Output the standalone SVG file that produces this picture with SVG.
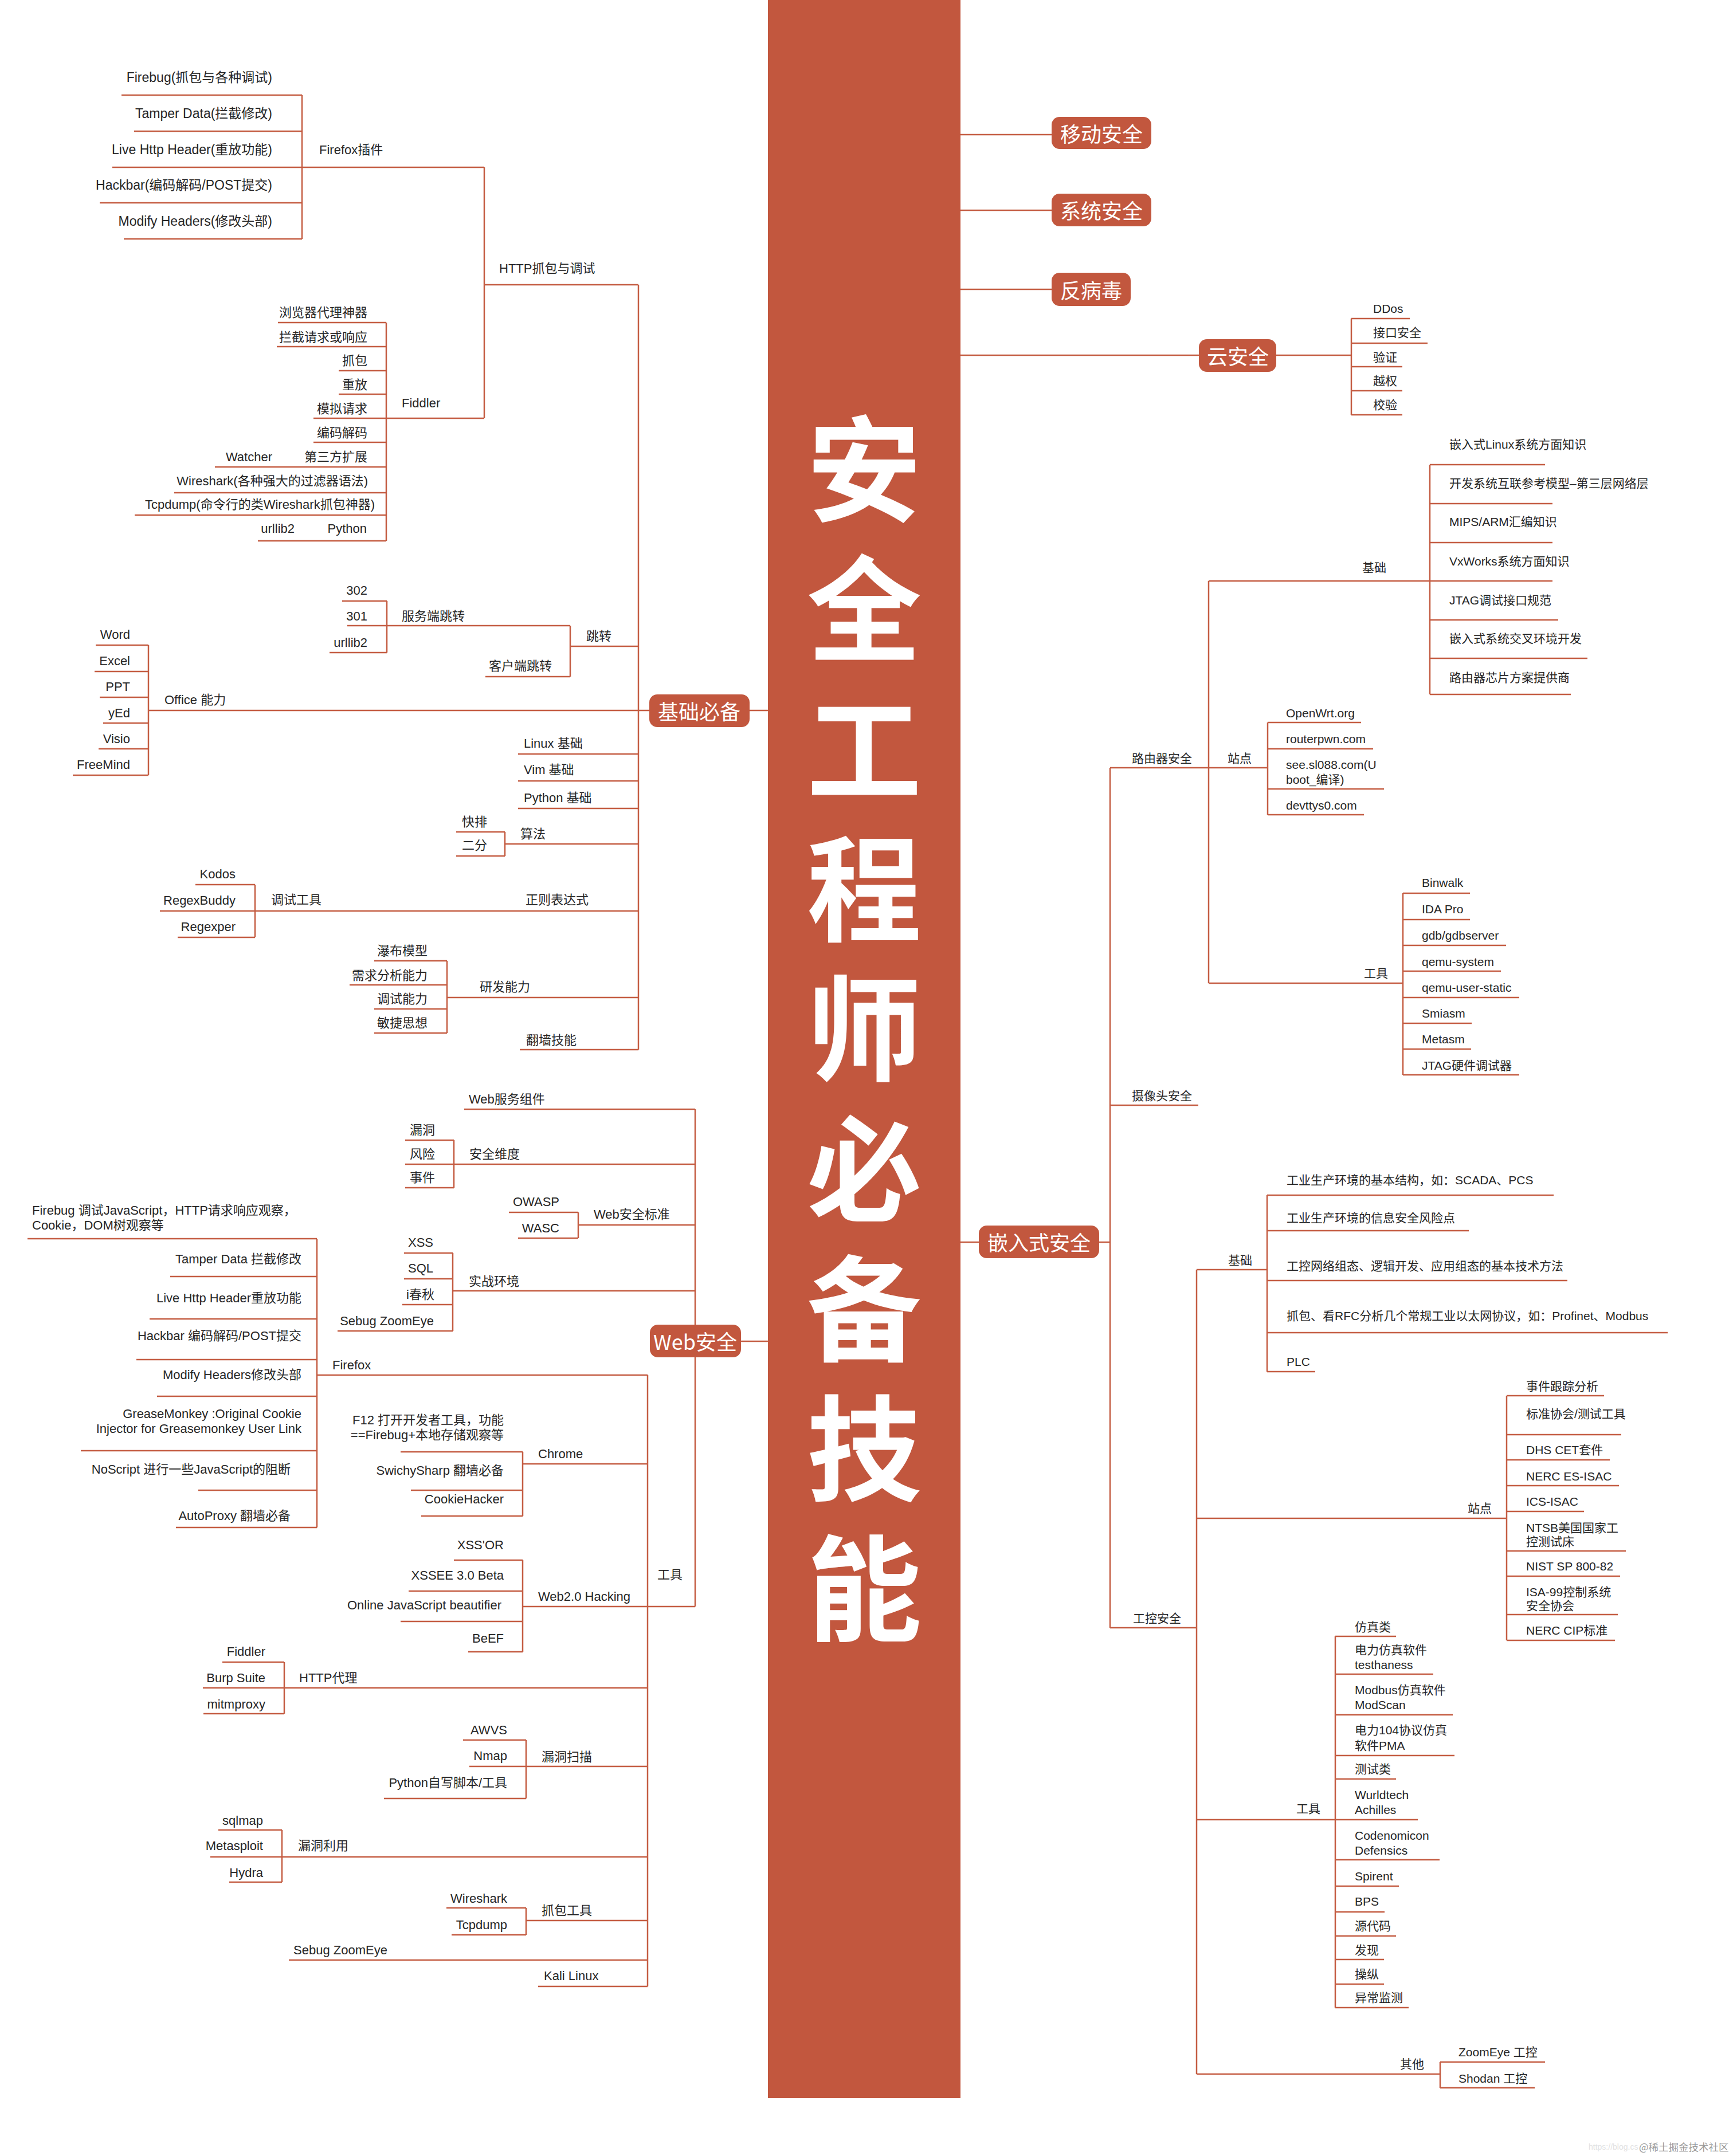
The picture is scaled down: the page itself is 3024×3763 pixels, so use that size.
<svg xmlns="http://www.w3.org/2000/svg" width="3024" height="3763" viewBox="0 0 3024 3763">
<style>
.t{font-family:"Liberation Sans","Noto Sans CJK SC",sans-serif;font-size:22px;fill:#262626}
.r{font-size:21px}
.e{text-anchor:end}
.mn rect{fill:#C2573E}
.mn text{font-family:"Noto Sans CJK SC",sans-serif;font-size:36px;fill:#fff;text-anchor:middle;dominant-baseline:central}
#title text{font-family:"Noto Sans CJK SC",sans-serif;font-weight:700;font-size:200px;fill:#fff;writing-mode:vertical-rl;letter-spacing:44.3px}
#connectors path{stroke:#C45C42;stroke-width:2.5;fill:none}
.wm{font-family:"Noto Sans CJK SC",sans-serif;font-size:17.5px;fill:#9a9a9a}
</style>
<rect width="3024" height="3763" fill="#fff"/>
<g id="center-bar">
<rect x="1340" y="0" width="336" height="3662" fill="#C2573E"/>
</g>
<g id="title">
<text x="1508" y="718">安全工程师必备技能</text>
</g>
<g id="connectors">
<path d="M212 166H527M234 229H527M196 292H845M174 354H527M216 417H527M527 166V417M845 292V730M845 497H1114"/>
<path d="M485 563H674M483 605H674M591 647H674M591 688H674M547 730H845M547 772H674M375 815H674M304 860H674M235 899H674M450 944H674M674 563V944"/>
<path d="M597 1049H675M606 1092H995M575 1139H675M675 1049V1139M847 1181H995M995 1092V1181M995 1128H1114"/>
<path d="M259 1240H1133M259 1126V1353M167 1126H259M165 1172H259M174 1217H259M180 1262H259M172 1307H259M127 1353H259"/>
<path d="M904 1316H1114M904 1363H1114M904 1411H1114M881 1473H1114M796 1452H881M796 1494H881M881 1452V1494"/>
<path d="M445 1590H1114M341 1544H445M279 1590H445M310 1636H445M445 1544V1636"/>
<path d="M780 1741H1114M653 1677H780M610 1719H780M653 1761H780M653 1803H780M780 1677V1803M907 1832H1114M1114 497V1832M1308 1240H1340"/>
<path d="M810 1936H1213M792 2032H1213M707 1990H792M707 2032H792M707 2073H792M792 1990V2073"/>
<path d="M1009 2138H1213M888 2116H1009M904 2161H1009M1009 2116V2161"/>
<path d="M790 2253H1213M705 2187H790M705 2232H790M702 2277H790M589 2323H790M790 2187V2323"/>
<path d="M1213 1936V2804M1293 2341H1340M912 2804H1213M1130 2400V3467"/>
<path d="M553 2400H1130M553 2162V2666M48 2162H553M297 2228H553M261 2302H553M238 2373H553M274 2437H553M141 2532H553M346 2601H553M307 2666H553"/>
<path d="M912 2555H1130M912 2534V2646M699 2534H912M717 2601H912M735 2646H912"/>
<path d="M912 2723V2883M792 2723H912M713 2777H912M699 2830H912M817 2883H912"/>
<path d="M496 2946H1130M496 2901V2991M388 2901H496M354 2946H496M355 2991H496"/>
<path d="M918 3083H1130M918 3037V3139M808 3037H918M819 3083H918M670 3139H918"/>
<path d="M492 3241H1130M492 3194V3285M381 3194H492M367 3241H492M400 3285H492"/>
<path d="M918 3352H1130M918 3330V3377M779 3330H918M788 3377H918M504 3421H1130M939 3467H1130"/>
<path d="M1676 235H1835M1676 367H1835M1676 505H1835M1676 620H2092M2227 620H2358M2358 556V724M2358 556H2460M2358 599H2491M2358 640H2447M2358 682H2447M2358 724H2447"/>
<path d="M1676 2168H1708M1918 2168H1937M1937 1340V2841M1937 1340H2212"/>
<path d="M2109 1014V1716M2109 1014H2495M2495 811V1212M2495 811H2696M2495 879H2709M2495 947H2709M2495 1014H2709M2495 1082H2719M2495 1149H2770M2495 1212H2741"/>
<path d="M2212 1261V1422M2212 1261H2375M2212 1307H2396M2212 1377H2415M2212 1422H2380"/>
<path d="M2109 1716H2448M2448 1559V1876M2448 1559H2565M2448 1605H2565M2448 1650H2628M2448 1695H2619M2448 1741H2651M2448 1786H2568M2448 1831H2567M2448 1876H2651"/>
<path d="M1937 1929H2091M1937 2841H2088M2088 2216V3620"/>
<path d="M2088 2216H2211M2211 2086V2394M2211 2086H2711M2211 2148H2563M2211 2235H2735M2211 2326H2910M2211 2394H2295"/>
<path d="M2088 2650H2629M2629 2436V2863M2629 2436H2799M2629 2504H2829M2629 2548H2809M2629 2593H2825M2629 2638H2764M2629 2707H2837M2629 2751H2827M2629 2818H2823M2629 2863H2818"/>
<path d="M2088 3176H2330M2330 2856V3504M2330 2856H2436M2330 2922H2501M2330 2993H2535M2330 3064H2538M2330 3105H2436M2330 3176H2474M2330 3246H2512M2330 3292H2441M2330 3337H2416M2330 3379H2436M2330 3420H2415M2330 3463H2415M2330 3504H2458"/>
<path d="M2088 3620H2513M2513 3599V3644M2513 3599H2696M2513 3644H2678"/>
</g>
<g id="main-nodes" class="mn">
<g id="n-jichu"><rect x="1133" y="1212" width="175" height="57" rx="14"/><text x="1220" y="1240">基础必备</text></g>
<g id="n-web"><rect x="1134" y="2312" width="159" height="57" rx="14"/><text x="1213" y="2340">Web安全</text></g>
<g id="n-mobile"><rect x="1835" y="204" width="174" height="56" rx="14"/><text x="1922" y="232">移动安全</text></g>
<g id="n-system"><rect x="1835" y="338" width="174" height="57" rx="14"/><text x="1922" y="366">系统安全</text></g>
<g id="n-antivirus"><rect x="1835" y="476" width="138" height="58" rx="14"/><text x="1904" y="505">反病毒</text></g>
<g id="n-cloud"><rect x="2092" y="592" width="135" height="57" rx="14"/><text x="2160" y="620">云安全</text></g>
<g id="n-embedded"><rect x="1708" y="2139" width="210" height="57" rx="14"/><text x="1813" y="2167">嵌入式安全</text></g>
</g>
<g id="left-nodes" class="t">
<g id="n-http"><text x="871" y="476">HTTP抓包与调试</text></g>
<g id="n-firefoxplugin"><text x="557" y="269">Firefox插件</text></g>
<g id="n-ff1"><text class="e" x="475" y="143" font-size="23">Firebug(抓包与各种调试)</text></g>
<g id="n-ff2"><text class="e" x="475" y="206" font-size="23">Tamper Data(拦截修改)</text></g>
<g id="n-ff3"><text class="e" x="475" y="269" font-size="23">Live Http Header(重放功能)</text></g>
<g id="n-ff4"><text class="e" x="475" y="331" font-size="23">Hackbar(编码解码/POST提交)</text></g>
<g id="n-ff5"><text class="e" x="475" y="394" font-size="23">Modify Headers(修改头部)</text></g>
<g id="n-fiddler"><text x="701" y="711">Fiddler</text></g>
<g id="n-fd1"><text class="e" x="641" y="553">浏览器代理神器</text></g>
<g id="n-fd2"><text class="e" x="641" y="596">拦截请求或响应</text></g>
<g id="n-fd3"><text class="e" x="641" y="637">抓包</text></g>
<g id="n-fd4"><text class="e" x="641" y="679">重放</text></g>
<g id="n-fd5"><text class="e" x="641" y="721">模拟请求</text></g>
<g id="n-fd6"><text class="e" x="641" y="763">编码解码</text></g>
<g id="n-fd7"><text class="e" x="641" y="805">第三方扩展</text></g>
<g id="n-fd7a"><text class="e" x="475" y="805">Watcher</text></g>
<g id="n-fd8"><text class="e" x="642" y="847">Wireshark(各种强大的过滤器语法)</text></g>
<g id="n-fd9"><text class="e" x="654" y="888">Tcpdump(命令行的类Wireshark抓包神器)</text></g>
<g id="n-fd10"><text class="e" x="640" y="930">Python</text></g>
<g id="n-fd10a"><text class="e" x="514" y="930">urllib2</text></g>
<g id="n-jump"><text x="1023" y="1118">跳转</text></g>
<g id="n-serverjump"><text x="701" y="1083">服务端跳转</text></g>
<g id="n-302"><text class="e" x="641" y="1038">302</text></g>
<g id="n-301"><text class="e" x="641" y="1083">301</text></g>
<g id="n-urllib2b"><text class="e" x="641" y="1129">urllib2</text></g>
<g id="n-clientjump"><text class="e" x="963" y="1170">客户端跳转</text></g>
<g id="n-office"><text x="287" y="1229">Office 能力</text></g>
<g id="n-word"><text class="e" x="227" y="1115">Word</text></g>
<g id="n-excel"><text class="e" x="227" y="1161">Excel</text></g>
<g id="n-ppt"><text class="e" x="227" y="1206">PPT</text></g>
<g id="n-yed"><text class="e" x="227" y="1252">yEd</text></g>
<g id="n-visio"><text class="e" x="227" y="1297">Visio</text></g>
<g id="n-freemind"><text class="e" x="227" y="1342">FreeMind</text></g>
<g id="n-linux"><text x="914" y="1305">Linux 基础</text></g>
<g id="n-vim"><text x="914" y="1351">Vim 基础</text></g>
<g id="n-python"><text x="914" y="1400">Python 基础</text></g>
<g id="n-algo"><text x="908" y="1463">算法</text></g>
<g id="n-qsort"><text x="806" y="1442">快排</text></g>
<g id="n-bsearch"><text x="806" y="1483">二分</text></g>
<g id="n-regex"><text x="917" y="1578">正则表达式</text></g>
<g id="n-debugtool"><text x="473" y="1578">调试工具</text></g>
<g id="n-kodos"><text class="e" x="411" y="1533">Kodos</text></g>
<g id="n-regexbuddy"><text class="e" x="411" y="1579">RegexBuddy</text></g>
<g id="n-regexper"><text class="e" x="411" y="1625">Regexper</text></g>
<g id="n-dev"><text x="837" y="1730">研发能力</text></g>
<g id="n-dev1"><text class="e" x="746" y="1667">瀑布模型</text></g>
<g id="n-dev2"><text class="e" x="746" y="1710">需求分析能力</text></g>
<g id="n-dev3"><text class="e" x="746" y="1751">调试能力</text></g>
<g id="n-dev4"><text class="e" x="746" y="1793">敏捷思想</text></g>
<g id="n-gfw"><text x="918" y="1823">翻墙技能</text></g>
<g id="n-websvc"><text x="818" y="1926">Web服务组件</text></g>
<g id="n-secdim"><text x="819" y="2022">安全维度</text></g>
<g id="n-vuln"><text class="e" x="759" y="1980">漏洞</text></g>
<g id="n-risk"><text class="e" x="759" y="2022">风险</text></g>
<g id="n-event"><text class="e" x="759" y="2063">事件</text></g>
<g id="n-webstd"><text x="1036" y="2127">Web安全标准</text></g>
<g id="n-owasp"><text class="e" x="976" y="2105">OWASP</text></g>
<g id="n-wasc"><text class="e" x="976" y="2151">WASC</text></g>
<g id="n-practice"><text x="818" y="2244">实战环境</text></g>
<g id="n-xss"><text class="e" x="756" y="2176">XSS</text></g>
<g id="n-sql"><text class="e" x="756" y="2221">SQL</text></g>
<g id="n-ichunqiu"><text class="e" x="758" y="2267">i春秋</text></g>
<g id="n-sebug1"><text class="e" x="757" y="2313">Sebug ZoomEye</text></g>
<g id="n-tools"><text x="1147" y="2756">工具</text></g>
<g id="n-firefox"><text x="580" y="2390">Firefox</text></g>
<g id="n-wf1"><text x="56" y="2120">Firebug 调试JavaScript，HTTP请求响应观察，<tspan x="56" dy="25.5">Cookie，DOM树观察等</tspan></text></g>
<g id="n-wf2"><text class="e" x="526" y="2205">Tamper Data 拦截修改</text></g>
<g id="n-wf3"><text class="e" x="526" y="2273">Live Http Header重放功能</text></g>
<g id="n-wf4"><text class="e" x="526" y="2339">Hackbar 编码解码/POST提交</text></g>
<g id="n-wf5"><text class="e" x="526" y="2407">Modify Headers修改头部</text></g>
<g id="n-wf6"><text class="e" x="526" y="2475">GreaseMonkey :Original Cookie<tspan x="526" dy="25.5">Injector for Greasemonkey User Link</tspan></text></g>
<g id="n-wf7"><text class="e" x="507" y="2572">NoScript 进行一些JavaScript的阻断</text></g>
<g id="n-wf8"><text class="e" x="507" y="2653">AutoProxy 翻墙必备</text></g>
<g id="n-chrome"><text x="939" y="2545">Chrome</text></g>
<g id="n-ch1"><text class="e" x="879" y="2486">F12 打开开发者工具，功能<tspan x="879" dy="25.5">==Firebug+本地存储观察等</tspan></text></g>
<g id="n-ch2"><text class="e" x="879" y="2574">SwichySharp 翻墙必备</text></g>
<g id="n-ch3"><text class="e" x="879" y="2624">CookieHacker</text></g>
<g id="n-web20"><text x="939" y="2794">Web2.0 Hacking</text></g>
<g id="n-xssor"><text class="e" x="879" y="2704">XSS'OR</text></g>
<g id="n-xssee"><text class="e" x="879" y="2757">XSSEE 3.0 Beta</text></g>
<g id="n-jsbeaut"><text class="e" x="875" y="2809">Online JavaScript beautifier</text></g>
<g id="n-beef"><text class="e" x="879" y="2867">BeEF</text></g>
<g id="n-httpproxy"><text x="522" y="2936">HTTP代理</text></g>
<g id="n-fiddler2"><text class="e" x="463" y="2890">Fiddler</text></g>
<g id="n-burp"><text class="e" x="463" y="2936">Burp Suite</text></g>
<g id="n-mitm"><text class="e" x="463" y="2982">mitmproxy</text></g>
<g id="n-vscan"><text x="945" y="3074">漏洞扫描</text></g>
<g id="n-awvs"><text class="e" x="885" y="3027">AWVS</text></g>
<g id="n-nmap"><text class="e" x="885" y="3072">Nmap</text></g>
<g id="n-pyscript"><text class="e" x="885" y="3119">Python自写脚本/工具</text></g>
<g id="n-vexploit"><text x="520" y="3229">漏洞利用</text></g>
<g id="n-sqlmap"><text class="e" x="459" y="3185">sqlmap</text></g>
<g id="n-msf"><text class="e" x="459" y="3229">Metasploit</text></g>
<g id="n-hydra"><text class="e" x="459" y="3276">Hydra</text></g>
<g id="n-capture"><text x="945" y="3342">抓包工具</text></g>
<g id="n-wireshark"><text class="e" x="885" y="3321">Wireshark</text></g>
<g id="n-tcpdump"><text class="e" x="885" y="3367">Tcpdump</text></g>
<g id="n-sebug2"><text x="512" y="3411">Sebug ZoomEye</text></g>
<g id="n-kali"><text x="949" y="3456">Kali Linux</text></g>
</g>
<g id="right-nodes" class="t r">
<g id="n-ddos"><text x="2396" y="546">DDos</text></g>
<g id="n-api"><text x="2396" y="588">接口安全</text></g>
<g id="n-verify"><text x="2396" y="631">验证</text></g>
<g id="n-priv"><text x="2396" y="672">越权</text></g>
<g id="n-check"><text x="2396" y="714">校验</text></g>
<g id="n-router"><text x="1975" y="1331">路由器安全</text></g>
<g id="n-rbase"><text x="2377" y="998">基础</text></g>
<g id="n-rb1"><text x="2529" y="783">嵌入式Linux系统方面知识</text></g>
<g id="n-rb2"><text x="2529" y="851">开发系统互联参考模型–第三层网络层</text></g>
<g id="n-rb3"><text x="2529" y="918">MIPS/ARM汇编知识</text></g>
<g id="n-rb4"><text x="2529" y="987">VxWorks系统方面知识</text></g>
<g id="n-rb5"><text x="2529" y="1055">JTAG调试接口规范</text></g>
<g id="n-rb6"><text x="2529" y="1122">嵌入式系统交叉环境开发</text></g>
<g id="n-rb7"><text x="2529" y="1190">路由器芯片方案提供商</text></g>
<g id="n-rsite"><text x="2142" y="1331">站点</text></g>
<g id="n-rs1"><text x="2244" y="1252">OpenWrt.org</text></g>
<g id="n-rs2"><text x="2244" y="1297">routerpwn.com</text></g>
<g id="n-rs3"><text x="2244" y="1342">see.sl088.com(U<tspan x="2244" dy="26">boot_编译)</tspan></text></g>
<g id="n-rs4"><text x="2244" y="1413">devttys0.com</text></g>
<g id="n-rtool"><text x="2380" y="1706">工具</text></g>
<g id="n-rt1"><text x="2481" y="1548">Binwalk</text></g>
<g id="n-rt2"><text x="2481" y="1594">IDA Pro</text></g>
<g id="n-rt3"><text x="2481" y="1640">gdb/gdbserver</text></g>
<g id="n-rt4"><text x="2481" y="1686">qemu-system</text></g>
<g id="n-rt5"><text x="2481" y="1731">qemu-user-static</text></g>
<g id="n-rt6"><text x="2481" y="1776">Smiasm</text></g>
<g id="n-rt7"><text x="2481" y="1821">Metasm</text></g>
<g id="n-rt8"><text x="2481" y="1867">JTAG硬件调试器</text></g>
<g id="n-camera"><text x="1975" y="1920">摄像头安全</text></g>
<g id="n-ics"><text x="1977" y="2832">工控安全</text></g>
<g id="n-ibase"><text x="2143" y="2207">基础</text></g>
<g id="n-ib1"><text x="2245" y="2067">工业生产环境的基本结构，如：SCADA、PCS</text></g>
<g id="n-ib2"><text x="2245" y="2133">工业生产环境的信息安全风险点</text></g>
<g id="n-ib3"><text x="2245" y="2217">工控网络组态、逻辑开发、应用组态的基本技术方法</text></g>
<g id="n-ib4"><text x="2245" y="2304">抓包、看RFC分析几个常规工业以太网协议，如：Profinet、Modbus</text></g>
<g id="n-ib5"><text x="2245" y="2384">PLC</text></g>
<g id="n-isite"><text x="2561" y="2640">站点</text></g>
<g id="n-is1"><text x="2663" y="2427">事件跟踪分析</text></g>
<g id="n-is2"><text x="2663" y="2475">标准协会/测试工具</text></g>
<g id="n-is3"><text x="2663" y="2538">DHS CET套件</text></g>
<g id="n-is4"><text x="2663" y="2584">NERC ES-ISAC</text></g>
<g id="n-is5"><text x="2663" y="2628">ICS-ISAC</text></g>
<g id="n-is6"><text x="2663" y="2674">NTSB美国国家工<tspan x="2663" dy="24">控测试床</tspan></text></g>
<g id="n-is7"><text x="2663" y="2741">NIST SP 800-82</text></g>
<g id="n-is8"><text x="2663" y="2786">ISA-99控制系统<tspan x="2663" dy="24">安全协会</tspan></text></g>
<g id="n-is9"><text x="2663" y="2853">NERC CIP标准</text></g>
<g id="n-itool"><text x="2262" y="3164">工具</text></g>
<g id="n-it1"><text x="2364" y="2847">仿真类</text></g>
<g id="n-it2"><text x="2364" y="2887">电力仿真软件<tspan x="2364" dy="26">testhaness</tspan></text></g>
<g id="n-it3"><text x="2364" y="2957">Modbus仿真软件<tspan x="2364" dy="26">ModScan</tspan></text></g>
<g id="n-it4"><text x="2364" y="3027">电力104协议仿真<tspan x="2364" dy="27">软件PMA</tspan></text></g>
<g id="n-it5"><text x="2364" y="3095">测试类</text></g>
<g id="n-it6"><text x="2364" y="3140">Wurldtech<tspan x="2364" dy="26">Achilles</tspan></text></g>
<g id="n-it7"><text x="2364" y="3211">Codenomicon<tspan x="2364" dy="26">Defensics</tspan></text></g>
<g id="n-it8"><text x="2364" y="3282">Spirent</text></g>
<g id="n-it9"><text x="2364" y="3326">BPS</text></g>
<g id="n-it10"><text x="2364" y="3369">源代码</text></g>
<g id="n-it11"><text x="2364" y="3411">发现</text></g>
<g id="n-it12"><text x="2364" y="3453">操纵</text></g>
<g id="n-it13"><text x="2364" y="3494">异常监测</text></g>
<g id="n-iother"><text x="2443" y="3610">其他</text></g>
<g id="n-io1"><text x="2545" y="3589">ZoomEye 工控</text></g>
<g id="n-io2"><text x="2545" y="3635">Shodan 工控</text></g>
</g>
<g id="watermark">
<text x="2772" y="3752" font-family="Liberation Sans,sans-serif" font-size="14" fill="#e2e2e2">https://blog.cs</text>
<text class="wm" x="2860" y="3754">@稀土掘金技术社区</text>
</g>
</svg>
